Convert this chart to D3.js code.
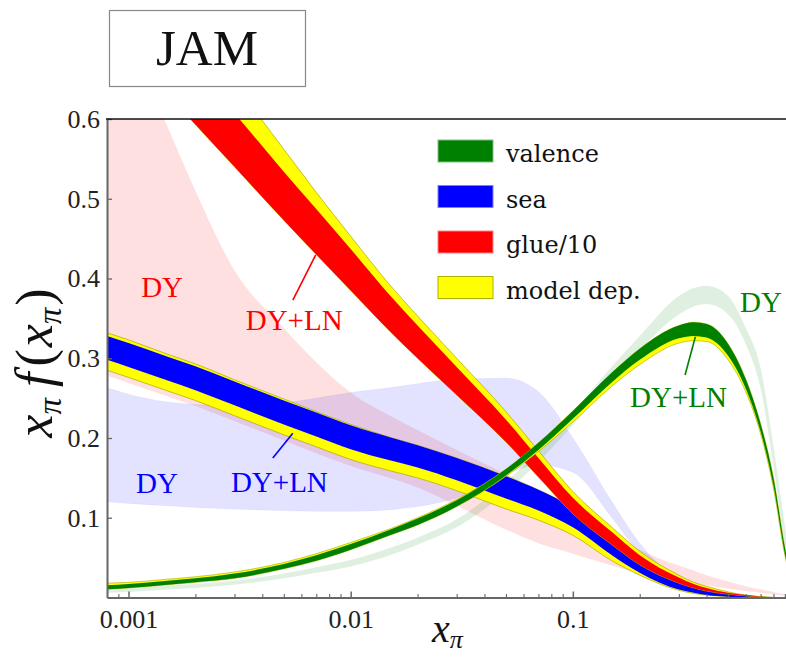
<!DOCTYPE html>
<html>
<head>
<meta charset="utf-8">
<script src="https://cdn.jsdelivr.net/npm/d3@7"></script>
<style>
  body { margin: 0; background: #fff; }
  svg { display: block; }
  .serif { font-family: "Liberation Serif", LiberationSerif, Tinos, "Times New Roman", Times, "Nimbus Roman", "Nimbus Roman No9 L", FreeSerif, "Noto Serif", "DejaVu Serif", serif; }
  .legendFont { font-family: "DejaVu Serif", DejaVuSerif, "Noto Serif", Georgia, "Liberation Serif", Tinos, serif; }
</style>
</head>
<body>
<svg id="chart" width="786" height="657"></svg>
<script>
// Momentum-fraction grid shared by every band
const xGrid = [0.0008, 0.001, 0.0015, 0.002, 0.003, 0.005, 0.007, 0.01, 0.015, 0.02, 0.03, 0.05, 0.07,
               0.1, 0.15, 0.2, 0.3, 0.35, 0.4, 0.5, 0.6, 0.7, 0.8, 0.9, 1.0];

// Valence: DY+LN fit, its model-dependence envelope, and the DY-only fit
const valenceLo      = [0.0105,0.012,0.016,0.019,0.024,0.036,0.046,0.060,0.078,0.091,0.114,0.153,0.185,0.224,0.270,0.298,0.325,0.328,0.326,0.303,0.262,0.208,0.140,0.055,0.000];
const valenceHi      = [0.0155,0.017,0.021,0.024,0.030,0.042,0.053,0.067,0.085,0.099,0.122,0.161,0.194,0.234,0.282,0.312,0.341,0.345,0.343,0.318,0.274,0.218,0.150,0.063,0.004];
const valenceModelLo = [0.0105,0.012,0.016,0.019,0.024,0.036,0.046,0.060,0.078,0.091,0.114,0.152,0.183,0.220,0.265,0.292,0.319,0.322,0.321,0.298,0.258,0.205,0.137,0.053,0.000];
const valenceModelHi = [0.018,0.019,0.023,0.026,0.032,0.044,0.055,0.069,0.086,0.100,0.123,0.161,0.194,0.234,0.282,0.312,0.341,0.345,0.343,0.318,0.274,0.218,0.150,0.063,0.004];
const valenceDYLo    = [0.006,0.007,0.010,0.012,0.016,0.024,0.031,0.039,0.053,0.066,0.088,0.132,0.170,0.216,0.272,0.310,0.355,0.365,0.368,0.355,0.318,0.262,0.165,0.065,0.000];
const valenceDYHi    = [0.011,0.012,0.015,0.017,0.021,0.030,0.038,0.047,0.062,0.075,0.098,0.145,0.184,0.232,0.290,0.328,0.378,0.388,0.391,0.378,0.338,0.288,0.190,0.090,0.005];

// Sea quarks
const seaLo      = [0.298,0.289,0.272,0.260,0.241,0.217,0.202,0.186,0.172,0.163,0.147,0.124,0.109,0.088,0.053,0.031,0.010,0.006,0.003,0.001,0,0,0,0,0];
const seaHi      = [0.328,0.319,0.302,0.290,0.271,0.247,0.232,0.216,0.201,0.191,0.175,0.152,0.135,0.113,0.079,0.056,0.026,0.018,0.012,0.005,0.002,0.001,0,0,0];
const seaModelLo = [0.285,0.276,0.259,0.247,0.228,0.204,0.189,0.173,0.159,0.150,0.134,0.111,0.097,0.078,0.046,0.028,0.009,0.005,0.003,0.001,0,0,0,0,0];
const seaModelHi = [0.332,0.323,0.305,0.293,0.273,0.249,0.233,0.217,0.201,0.191,0.175,0.152,0.135,0.113,0.079,0.056,0.026,0.018,0.012,0.005,0.002,0.001,0,0,0];
const seaDYLo    = [0.120,0.118,0.115,0.113,0.111,0.109,0.108,0.108,0.110,0.114,0.125,0.155,0.166,0.157,0.100,0.055,0.015,0.008,0.004,0.001,0,0,0,0,0];
const seaDYHi    = [0.263,0.255,0.245,0.242,0.240,0.244,0.250,0.257,0.263,0.268,0.274,0.275,0.258,0.200,0.120,0.068,0.022,0.012,0.007,0.002,0.001,0,0,0,0];

// Gluon (divided by 10)
const glueLo      = [0.713,0.684,0.631,0.593,0.540,0.473,0.430,0.385,0.334,0.300,0.254,0.195,0.151,0.105,0.066,0.041,0.018,0.012,0.008,0.004,0.002,0.001,0,0,0];
const glueHi      = [0.788,0.758,0.703,0.663,0.607,0.534,0.487,0.437,0.379,0.341,0.289,0.223,0.175,0.125,0.082,0.053,0.025,0.017,0.012,0.006,0.003,0.001,0,0,0];
const glueModelHi = [0.830,0.798,0.741,0.699,0.643,0.562,0.508,0.453,0.392,0.353,0.300,0.233,0.184,0.133,0.088,0.058,0.028,0.019,0.014,0.007,0.003,0.001,0,0,0];
const glueDYLo    = [0.278,0.269,0.252,0.240,0.221,0.197,0.181,0.165,0.150,0.138,0.115,0.085,0.068,0.055,0.040,0.030,0.020,0.017,0.015,0.011,0.008,0.006,0.004,0.002,0.001];
const glueDYHi    = [0.750,0.700,0.590,0.510,0.410,0.338,0.295,0.257,0.228,0.210,0.185,0.155,0.135,0.110,0.080,0.060,0.040,0.034,0.028,0.020,0.014,0.010,0.007,0.004,0.002];

// Axis ticks
const yTicks = [0.1, 0.2, 0.3, 0.4, 0.5, 0.6];
const xMajorTicks = [0.001, 0.01, 0.1];
const xTickLabels = ["0.001", "0.01", "0.1"];

// Legend entries
const legendLabels = ["valence", "sea", "glue/10", "model dep."];
const legendColors = ["#008000", "#0000ff", "#ff0000", "#ffff00"];
const legendStrokes = ["#7fbf7f", "#7f7fff", "#ff8080", "#b0b000"];

// Curve annotations and their pointer segments (data coordinates)
const labelText = ["DY", "DY+LN", "DY", "DY+LN", "DY", "DY+LN"];
const labelX    = [0.00114, 0.00337, 0.00108, 0.00289, 0.566, 0.181];
const labelY    = [0.377, 0.335, 0.131, 0.132, 0.358, 0.239];
const labelColor = ["#ff0000", "#ff0000", "#0000ff", "#0000ff", "#008000", "#008000"];
const pointerX1 = [0.00549, 0.00446, 0.320];
const pointerY1 = [0.373, 0.175, 0.279];
const pointerX2 = [0.00696, 0.00549, 0.356];
const pointerY2 = [0.4295, 0.206, 0.327];
const pointerColor = ["#ff0000", "#0000ff", "#008000"];

const svg = d3.select("#chart");
const plotLeft = 107, plotTop = 119, plotBottom = 597.5, plotRight = 795;

const x = d3.scaleLog().domain([0.0008, 1]).range([plotLeft, plotRight]);
const y = d3.scaleLinear().domain([0, 0.6]).range([plotBottom, plotTop]);

svg.append("defs").append("clipPath").attr("id", "plotClip")
  .append("rect").attr("x", plotLeft).attr("y", plotTop)
  .attr("width", plotRight - plotLeft).attr("height", plotBottom - plotTop);

const plot = svg.append("g").attr("clip-path", "url(#plotClip)");

function band(lo, hi) {
  return d3.area()
    .x((d, i) => x(xGrid[i]))
    .y0((d, i) => y(lo[i]))
    .y1((d, i) => y(hi[i]))
    .curve(d3.curveMonotoneX)(xGrid);
}

function drawBand(lo, hi, fill, opts = {}) {
  plot.append("path")
    .attr("d", band(lo, hi))
    .attr("fill", fill)
    .attr("fill-opacity", opts.opacity ?? 1)
    .attr("stroke", opts.stroke ?? "none")
    .attr("stroke-width", opts.strokeWidth ?? 0)
    .attr("stroke-opacity", opts.strokeOpacity ?? 1);
}

// DY-only fits: light translucent bands
drawBand(glueDYLo, glueDYHi, "#ff0000", { opacity: 0.12 });
drawBand(seaDYLo, seaDYHi, "#0000ff", { opacity: 0.11, stroke: "#0000ff", strokeWidth: 0.6, strokeOpacity: 0.08 });
drawBand(valenceDYLo, valenceDYHi, "#008000", { opacity: 0.12 });

// Sea: model dependence then DY+LN fit
drawBand(seaModelLo, seaModelHi, "#ffff00", { stroke: "#a8a800", strokeWidth: 0.7 });
drawBand(seaLo, seaHi, "#0000ff");

// Gluon
drawBand(glueLo, glueModelHi, "#ffff00", { stroke: "#a8a800", strokeWidth: 0.7 });
drawBand(glueLo, glueHi, "#ff0000");

// Valence
drawBand(valenceModelLo, valenceModelHi, "#ffff00", { stroke: "#a8a800", strokeWidth: 0.6 });
drawBand(valenceLo, valenceHi, "#008000");

// Axes
const axisColor = "#666";
const yAxis = d3.axisLeft(y).tickValues(yTicks).tickFormat(d3.format(".1f"))
  .tickSizeInner(-5).tickSizeOuter(0).tickPadding(7);
const gy = svg.append("g").attr("transform", `translate(${plotLeft},0)`).call(yAxis);
gy.attr("font-family", null).attr("font-size", null);
gy.select(".domain").attr("stroke", axisColor).attr("stroke-width", 2);
gy.selectAll(".tick line").attr("stroke", axisColor).attr("stroke-width", 1.3);
gy.selectAll(".tick text").attr("class", "serif").style("font-size", "26px").attr("fill", "#222");

const minorTicks = [];
[0.0001, 0.001, 0.01, 0.1].forEach(dec => {
  for (let k = 2; k <= 9; k++) {
    const v = dec * k;
    if (v > 0.0008 && v < 1) minorTicks.push(v);
  }
});
const xMinor = d3.axisBottom(x).tickValues(minorTicks).tickFormat("").tickSizeInner(-3.5).tickSizeOuter(0);
const gxm = svg.append("g").attr("transform", `translate(0,${plotBottom})`).call(xMinor);
gxm.select(".domain").remove();
gxm.selectAll(".tick line").attr("stroke", axisColor).attr("stroke-width", 1.1);

const xAxis = d3.axisBottom(x).tickValues(xMajorTicks).tickFormat((d, i) => xTickLabels[i])
  .tickSizeInner(-6).tickSizeOuter(0).tickPadding(12);
const gx = svg.append("g").attr("transform", `translate(0,${plotBottom})`).call(xAxis);
gx.attr("font-family", null).attr("font-size", null);
gx.select(".domain").attr("stroke", axisColor).attr("stroke-width", 2);
gx.selectAll(".tick line").attr("stroke", axisColor).attr("stroke-width", 1.5);
gx.selectAll(".tick text").attr("class", "serif").style("font-size", "26px").attr("fill", "#222");

// top frame
svg.append("line").attr("x1", plotLeft - 1).attr("x2", 786).attr("y1", plotTop).attr("y2", plotTop)
  .attr("stroke", "#111").attr("stroke-width", 1.6);

// Axis titles
const yTitle = svg.append("text")
  .attr("class", "serif")
  .attr("transform", "translate(52,363) rotate(-90)")
  .attr("text-anchor", "middle")
  .style("font-size", "52px")
  .attr("fill", "#111");
yTitle.append("tspan").attr("font-style", "italic").text("x");
yTitle.append("tspan").attr("font-style", "italic").style("font-size", "33px").attr("dy", 9).text("π");
yTitle.append("tspan").attr("font-style", "italic").attr("dy", -9).attr("dx", 11).text("f");
yTitle.append("tspan").attr("dx", 6).text("(");
yTitle.append("tspan").attr("font-style", "italic").attr("dx", 2).text("x");
yTitle.append("tspan").attr("font-style", "italic").style("font-size", "33px").attr("dy", 9).text("π");
yTitle.append("tspan").attr("dy", -9).attr("dx", 2).text(")");

const xTitle = svg.append("text")
  .attr("class", "serif")
  .attr("x", 432).attr("y", 642)
  .style("font-size", "40px")
  .attr("fill", "#111");
xTitle.append("tspan").attr("font-style", "italic").text("x");
xTitle.append("tspan").attr("font-style", "italic").style("font-size", "26px").attr("dy", 6).text("π");

// Curve annotations
labelText.forEach((t, i) => {
  svg.append("text")
    .attr("class", "serif")
    .attr("x", x(labelX[i])).attr("y", y(labelY[i]))
    .style("font-size", "29px")
    .attr("fill", labelColor[i])
    .text(t);
});
pointerX1.forEach((v, i) => {
  svg.append("line")
    .attr("x1", x(v)).attr("y1", y(pointerY1[i]))
    .attr("x2", x(pointerX2[i])).attr("y2", y(pointerY2[i]))
    .attr("stroke", pointerColor[i]).attr("stroke-width", 1.6);
});

// Legend
const legend = svg.append("g");
legendLabels.forEach((t, i) => {
  const yy = 140 + i * 45.5;
  legend.append("rect").attr("x", 438).attr("y", yy).attr("width", 55).attr("height", 22)
    .attr("fill", legendColors[i]).attr("stroke", legendStrokes[i]).attr("stroke-width", 1);
  legend.append("text").attr("class", "legendFont").attr("x", 506).attr("y", yy + 22)
    .style("font-size", "24px").attr("fill", "#111")
    .text(t);
});

// Title box
svg.append("rect").attr("x", 109.5).attr("y", 10.5).attr("width", 196).attr("height", 76)
  .attr("fill", "none").attr("stroke", "#888").attr("stroke-width", 1.2);
svg.append("text").attr("class", "serif").attr("x", 207).attr("y", 65).attr("text-anchor", "middle")
  .style("font-size", "51px").attr("fill", "#111")
  .text("JAM");
</script>
</body>
</html>
